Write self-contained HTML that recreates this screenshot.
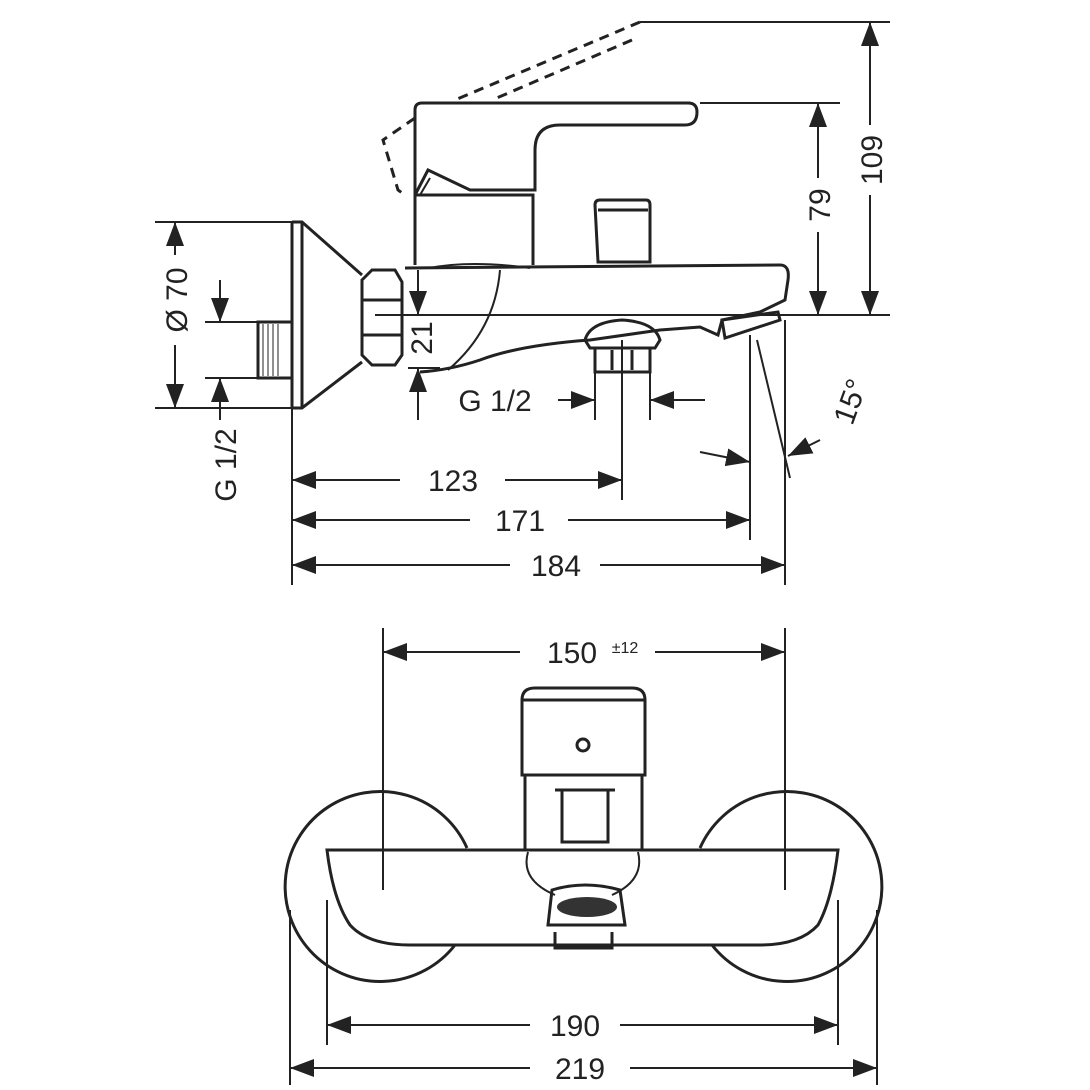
<!DOCTYPE html>
<html><head><style>html,body{margin:0;background:#fff}svg{display:block}text{font-family:"Liberation Sans",sans-serif;font-size:30px;fill:#222}</style></head>
<body>
<svg width="1090" height="1090" viewBox="0 0 1090 1090" xmlns="http://www.w3.org/2000/svg">
<defs>
<marker id="a" markerUnits="userSpaceOnUse" markerWidth="26" markerHeight="20" refX="24" refY="10" orient="auto-start-reverse"><path d="M0,1 L24,10 L0,19 Z" fill="#222"/></marker>
</defs>
<g stroke="#222" stroke-width="2" fill="none">
<!-- extension lines -->
<line x1="640" y1="22" x2="890" y2="22"/>
<line x1="700" y1="103" x2="840" y2="103"/>
<line x1="375" y1="315" x2="890" y2="315"/>
<line x1="155" y1="222" x2="292" y2="222"/>
<line x1="155" y1="408" x2="292" y2="408"/>
<line x1="205" y1="322" x2="262" y2="322"/>
<line x1="205" y1="378" x2="262" y2="378"/>
<line x1="408" y1="368" x2="440" y2="368"/>
<line x1="292" y1="408" x2="292" y2="585"/>
<line x1="622" y1="340" x2="622" y2="500"/>
<line x1="595" y1="370" x2="595" y2="420"/>
<line x1="650" y1="370" x2="650" y2="420"/>
<line x1="750" y1="335" x2="750" y2="540"/>
<line x1="785" y1="320" x2="785" y2="585"/>
<line x1="757" y1="340" x2="790" y2="478"/>
<!-- dims top -->
<line x1="870" y1="22" x2="870" y2="125" marker-start="url(#a)"/>
<line x1="870" y1="195" x2="870" y2="315" marker-end="url(#a)"/>
<line x1="818" y1="103" x2="818" y2="178" marker-start="url(#a)"/>
<line x1="818" y1="232" x2="818" y2="315" marker-end="url(#a)"/>
<line x1="175" y1="222" x2="175" y2="255" marker-start="url(#a)"/>
<line x1="175" y1="345" x2="175" y2="408" marker-end="url(#a)"/>
<line x1="220" y1="280" x2="220" y2="322" marker-end="url(#a)"/>
<line x1="220" y1="420" x2="220" y2="378" marker-end="url(#a)"/>
<line x1="418" y1="270" x2="418" y2="315" marker-end="url(#a)"/>
<line x1="418" y1="420" x2="418" y2="368" marker-end="url(#a)"/>
<line x1="558" y1="400" x2="595" y2="400" marker-end="url(#a)"/>
<line x1="705" y1="400" x2="650" y2="400" marker-end="url(#a)"/>
<line x1="292" y1="480" x2="400" y2="480" marker-start="url(#a)"/>
<line x1="505" y1="480" x2="622" y2="480" marker-end="url(#a)"/>
<line x1="292" y1="520" x2="470" y2="520" marker-start="url(#a)"/>
<line x1="568" y1="520" x2="750" y2="520" marker-end="url(#a)"/>
<line x1="292" y1="565" x2="510" y2="565" marker-start="url(#a)"/>
<line x1="600" y1="565" x2="785" y2="565" marker-end="url(#a)"/>
<line x1="700" y1="452" x2="750" y2="462" marker-end="url(#a)"/>
<line x1="820" y1="440" x2="788" y2="456" marker-end="url(#a)"/>
<!-- faucet side view -->
<path d="M640,22 L455,100 M632,40 L492,100 M415,118 L383,140 L398,190 L405,195" stroke-dasharray="10,7" stroke-width="3"/>
<path d="M415,110 Q415,103 422,103 L688,103 Q697,103 697,112 Q697,125 685,125 L560,125 Q535,125 535,150 L535,190 L470,190 L428,170 L415,195 Z" stroke-width="3"/>
<path d="M430,178 L420,195" stroke-width="2"/>
<path d="M415,195 L533,195 L533,265 M415,195 L415,265" stroke-width="3"/>
<path d="M595,205 Q595,200 600,200 L646,200 Q650,200 650,205 L650,262 L598,262 Z M598,210 L648,210" stroke-width="3"/>
<path d="M405,268 L780,265 Q790,265 788,280 L785,300 L760,312 L722,320 L718,335 L700,327 L660,330 L590,340 Q520,345 480,360 Q450,370 420,372" stroke-width="3"/>
<path d="M430,268 Q470,260 530,268 M500,270 Q495,330 448,370" stroke-width="2"/>
<path d="M722,320 L778,312 L780,320 L725,338 Z" stroke-width="3"/>
<path d="M585,340 Q590,322 622,320 Q655,322 660,340 L655,348 L590,348 Z M595,348 L595,372 L650,372 L650,348 M612,350 L612,370 M632,350 L632,370" stroke-width="3"/>
<path d="M362,280 L372,270 L395,270 L402,282 L402,355 L395,365 L372,365 L362,355 Z M362,300 L402,300 M362,335 L402,335" stroke-width="3"/>
<path d="M292,222 L302,222 L362,275 M292,408 L302,408 L362,362 M292,222 L292,408 M302,222 L302,408" stroke-width="3"/>
<path d="M292,322 L258,322 L258,378 L292,378" stroke-width="3"/>
<path d="M263,324 L263,376 M268,324 L268,376 M273,324 L273,376 M278,324 L278,376" stroke-width="1"/>
<!-- bottom view -->
<line x1="383" y1="628" x2="383" y2="890"/>
<line x1="785" y1="628" x2="785" y2="890"/>
<line x1="383" y1="652" x2="520" y2="652" marker-start="url(#a)"/>
<line x1="655" y1="652" x2="785" y2="652" marker-end="url(#a)"/>
<line x1="290" y1="910" x2="290" y2="1085"/>
<line x1="877" y1="910" x2="877" y2="1085"/>
<line x1="327" y1="900" x2="327" y2="1045"/>
<line x1="838" y1="900" x2="838" y2="1045"/>
<line x1="327" y1="1025" x2="530" y2="1025" marker-start="url(#a)"/>
<line x1="620" y1="1025" x2="838" y2="1025" marker-end="url(#a)"/>
<line x1="290" y1="1068" x2="530" y2="1068" marker-start="url(#a)"/>
<line x1="630" y1="1068" x2="877" y2="1068" marker-end="url(#a)"/>
<path d="M467,848 A95,95 0 1 0 455,945 M700,848 A95,95 0 1 1 712,945" stroke-width="3"/>
<path d="M327,850 L838,850 Q832,900 818,925 Q800,945 760,945 L410,945 Q368,945 350,925 Q333,900 327,850 Z" stroke-width="3"/>
<path d="M522,700 Q522,688 535,688 L632,688 Q645,688 645,700 L645,775 L522,775 Z M522,700 L645,700" stroke-width="3"/>
<circle cx="583" cy="745" r="6" stroke-width="3"/>
<path d="M525,775 L525,850 M642,775 L642,850 M562,790 L608,790 L608,842 L562,842 Z M555,790 L615,790" stroke-width="3"/>
<path d="M528,852 Q520,880 555,895 M638,852 Q645,880 612,895" stroke-width="2"/>
<path d="M552,890 Q585,880 620,890 L625,925 L548,925 Z M555,932 L555,948 L612,948 L612,932" stroke-width="3"/>
<ellipse cx="587" cy="907" rx="30" ry="10" fill="#333" stroke="none"/>
</g>
<g>
<text x="0" y="0" transform="translate(882,160) rotate(-90)" text-anchor="middle">109</text>
<text x="0" y="0" transform="translate(830,205) rotate(-90)" text-anchor="middle">79</text>
<text x="0" y="0" transform="translate(187,300) rotate(-90)" text-anchor="middle">Ø 70</text>
<text x="0" y="0" transform="translate(236,465) rotate(-90)" text-anchor="middle">G 1/2</text>
<text x="0" y="0" transform="translate(432,338) rotate(-90)" text-anchor="middle">21</text>
<text x="0" y="0" transform="translate(860,405) rotate(-70)" text-anchor="middle">15°</text>
<text x="495" y="411" text-anchor="middle">G 1/2</text>
<text x="453" y="491" text-anchor="middle">123</text>
<text x="520" y="531" text-anchor="middle">171</text>
<text x="556" y="576" text-anchor="middle">184</text>
<text x="572" y="663" text-anchor="middle">150</text>
<text x="625" y="653" text-anchor="middle" style="font-size:16px">±12</text>
<text x="575" y="1036" text-anchor="middle">190</text>
<text x="580" y="1079" text-anchor="middle">219</text>
</g>
</svg>
</body></html>
